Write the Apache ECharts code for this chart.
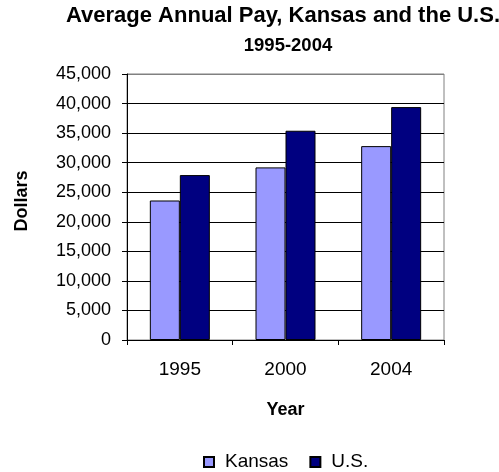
<!DOCTYPE html>
<html>
<head>
<meta charset="utf-8">
<script src="https://cdn.jsdelivr.net/npm/echarts@6/dist/echarts.min.js"></script>
<style>
  html, body { margin: 0; padding: 0; background: #fff; }
  #chart { width: 499px; height: 472px; }
</style>
</head>
<body>
<div id="chart"></div>
<script>
// Average annual pay, in dollars
const years = ['1995', '2000', '2004'];
const kansasPay = [23600, 29200, 32800];
const usPay = [27900, 35400, 39400];
const yTicks = [0, 5000, 10000, 15000, 20000, 25000, 30000, 35000, 40000, 45000];
const titleMain = 'Average Annual Pay, Kansas and the U.S.';
const titleSub = '1995-2004';

const FONT = '"Liberation Sans", Arial, sans-serif';

const chart = echarts.init(document.getElementById('chart'), null, { renderer: 'canvas' });

// Gridlines are black; the top one doubles as the grey plot border.
const gridColors = yTicks.map((v, i) => (i === yTicks.length - 1 ? '#808080' : '#000000'));

chart.setOption({
  animation: false,
  backgroundColor: '#ffffff',
  title: {
    text: '{main|' + titleMain + '}\n{sub|' + titleSub + '}',
    left: 283,
    top: 1,
    padding: 0,
    textAlign: 'center',
    textStyle: {
      fontFamily: FONT,
      fontWeight: 'bold',
      color: '#000',
      rich: {
        main: { fontFamily: FONT, fontWeight: 'bold', fontSize: 22, lineHeight: 29, color: '#000' },
        sub: { fontFamily: FONT, fontWeight: 'bold', fontSize: 18.5, lineHeight: 32, color: '#000', padding: [0, 0, 0, 10] }
      }
    }
  },
  grid: {
    left: 127,
    top: 74,
    right: 55,
    bottom: 132,
    outerBoundsMode: 'none',
    containLabel: false,
    show: true,
    borderColor: '#808080',
    borderWidth: 1,
    backgroundColor: '#ffffff'
  },
  legend: {
    data: ['Kansas', 'U.S.'],
    left: 203,
    top: 452,
    padding: 0,
    icon: 'rect',
    itemWidth: 10,
    itemHeight: 10,
    itemGap: 21,
    textStyle: {
      fontFamily: FONT,
      fontSize: 19,
      lineHeight: 20,
      color: '#000',
      padding: [0, 0, 0, 6]
    }
  },
  xAxis: {
    type: 'category',
    data: years,
    name: 'Year',
    nameLocation: 'middle',
    nameGap: 61,
    nameTextStyle: {
      fontFamily: FONT,
      fontWeight: 'bold',
      fontSize: 18,
      color: '#000'
    },
    axisLine: { show: true, lineStyle: { color: '#000', width: 1 } },
    axisTick: { show: true, length: 5, inside: false, lineStyle: { color: '#000' } },
    axisLabel: {
      fontFamily: FONT,
      fontSize: 19,
      color: '#000',
      margin: 20
    },
    splitLine: { show: false }
  },
  yAxis: {
    type: 'value',
    min: 0,
    max: 45000,
    interval: 5000,
    name: 'Dollars',
    nameLocation: 'middle',
    nameGap: 96,
    nameTextStyle: {
      fontFamily: FONT,
      fontWeight: 'bold',
      fontSize: 18,
      color: '#000',
      padding: [0, 0, 0, 12]
    },
    axisLine: { show: true, lineStyle: { color: '#000', width: 1 } },
    axisTick: { show: true, length: 5, lineStyle: { color: '#000' } },
    axisLabel: {
      fontFamily: FONT,
      fontSize: 18,
      color: '#000',
      margin: 16,
      formatter: v => v.toLocaleString('en-US')
    },
    splitLine: { show: true, lineStyle: { color: gridColors, width: 1 } }
  },
  series: [
    {
      name: 'Kansas',
      type: 'bar',
      data: kansasPay,
      barWidth: 30,
      barGap: '0%',
      itemStyle: { color: '#9999FF', borderColor: '#000', borderWidth: 1 }
    },
    {
      name: 'U.S.',
      type: 'bar',
      data: usPay,
      barWidth: 30,
      barGap: '0%',
      itemStyle: { color: '#000080', borderColor: '#000', borderWidth: 1 }
    }
  ]
});
</script>
</body>
</html>
